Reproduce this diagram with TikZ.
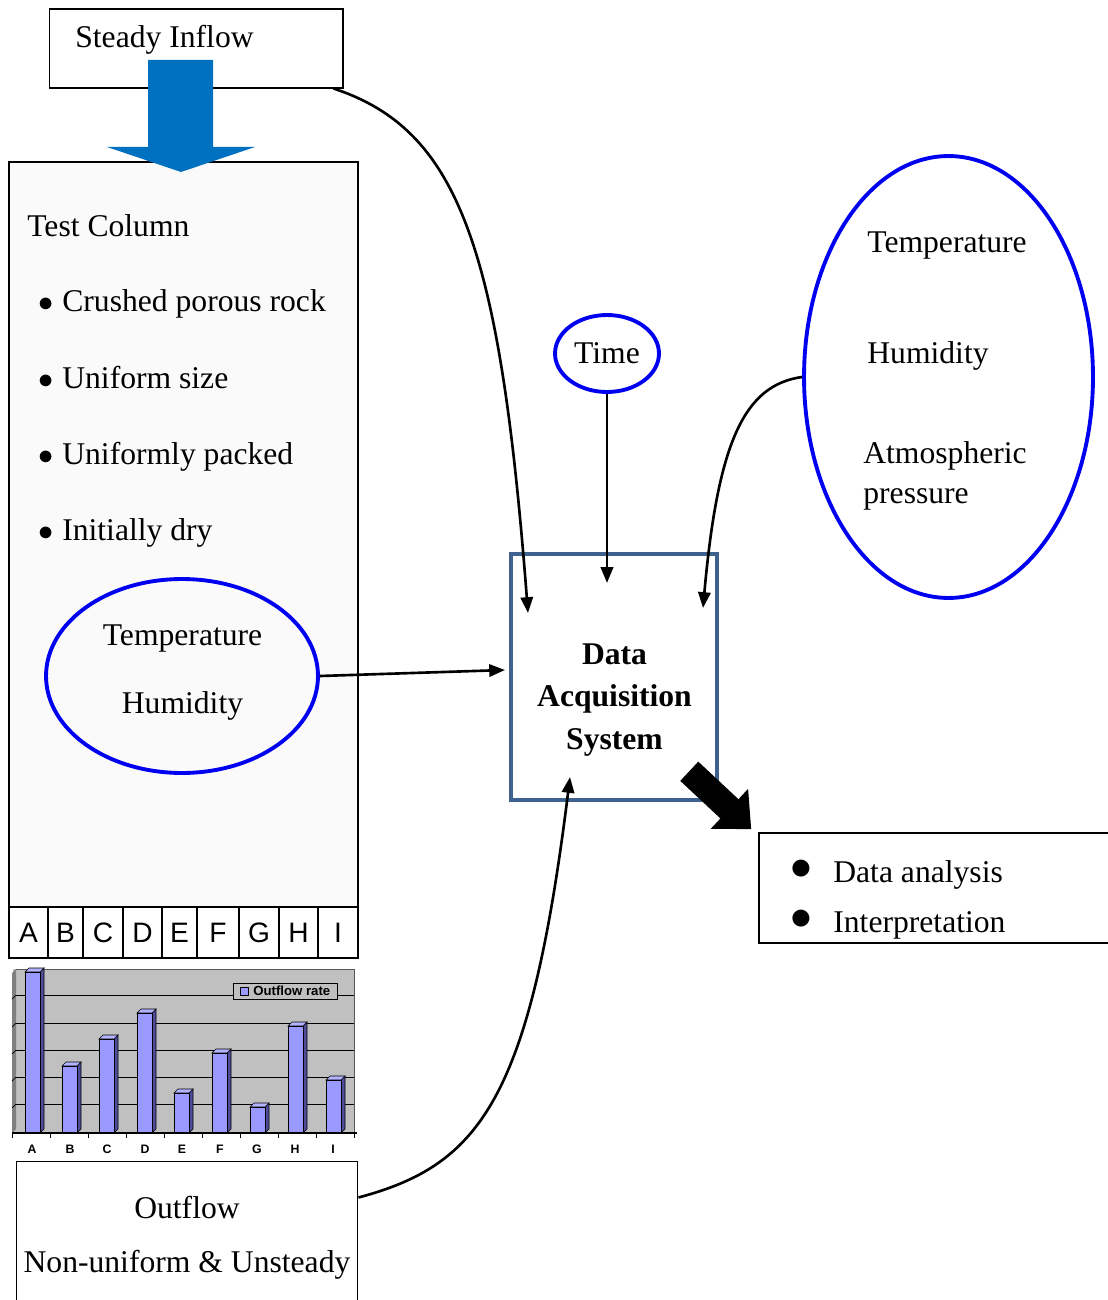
\documentclass[tikz,border=0pt]{standalone}
\usepackage{fontspec}
\setmainfont{Liberation Serif}
\newfontfamily\arialfont{Liberation Sans}
\usepackage{tikz}
\usetikzlibrary{arrows.meta, shapes.geometric, calc, positioning}
\usepackage{xcolor}
\definecolor{inflowblue}{HTML}{0070C0}
\definecolor{ringblue}{HTML}{0000F0}
\definecolor{dasblue}{HTML}{3F6190}
\definecolor{colfill}{HTML}{FAFAFA}
\definecolor{chartgray}{HTML}{C0C0C0}
\definecolor{barfront}{HTML}{9999FF}
\definecolor{bartop}{HTML}{B3B3FF}
\definecolor{barside}{HTML}{4D4D99}

\tikzset{
  box/.style={draw, line width=0.6pt, inner sep=0pt},
  ring/.style={draw=ringblue, ellipse, line width=2.2pt, inner sep=0pt},
  txt/.style={font=\fontsize{18}{22}\selectfont, inner sep=0pt},
  conn/.style={line width=1.5pt, -{Triangle[length=9pt,width=7pt]}},
  cell/.style={draw, line width=0.6pt, inner sep=0pt, font=\arialfont\fontsize{16}{18}\selectfont},
  bigdot/.style={inner sep=0pt, font=\fontsize{27}{27}\selectfont},
}

\begin{document}
\begin{tikzpicture}[x=0.02cm, y=-0.02cm]
  \useasboundingbox (0,0) rectangle (1107,1300);

  % inflow
  \node[box, minimum width=5.88cm, minimum height=1.58cm] (inflow) at (196,48.5) {};
  \node[txt, anchor=base west] (inflowtxt) at (75,48) {Steady Inflow};

  % test column
  \node[box, fill=colfill, line width=0.9pt, minimum width=6.98cm, minimum height=14.9cm] (column) at (183.5,534.5) {};
  \node[txt, anchor=base west] (coltitle) at (27,237) {Test Column};
  \foreach \t [count=\i] in {Crushed porous rock, Uniform size, Uniformly packed, Initially dry}
    \node[txt, anchor=base west] (item\i) at (38,{312+76*(\i-1)}) {$\bullet$\hspace{5pt}\t};

  % blue inflow arrow
  \fill[inflowblue] (148,60) -- (213,60) -- (213,147) -- (255,147) -- (181,172) -- (107,147) -- (148,147) -- cycle;

  % sensors in column
  \node[ring, minimum width=5.44cm, minimum height=3.88cm] (innerring) at (182,676) {};
  \node[txt, anchor=base] (innertemp) at (182.5,645) {Temperature};
  \node[txt, anchor=base] (innerhum) at (182.5,713) {Humidity};

  % outlet cells
  \foreach \l/\a/\b in {A/9/48, B/48/83, C/83/123, D/123/162, E/162/197, F/197/239, G/239/279, H/279/318, I/318/358}
    \node[cell, minimum width={0.02cm*(\b-\a)}, minimum height=1.02cm] (cell\l) at ({(\a+\b)/2},932.5) {\l};

  % chart
  \fill[chartgray] (13,969) rectangle (354,1133);
  \fill[gray] (12,973) -- (16,969) -- (16,1129) -- (12,1133) -- cycle;
  \draw[line width=0.4pt, gray!70!black] (16,969) -- (354,969) -- (354,1133);
  \foreach \gy in {995,1023,1050,1077,1104} {
    \draw[line width=0.5pt] (16,\gy) -- (354,\gy);
    \draw[line width=0.4pt] (12,\gy+4) -- (16,\gy);
  }
  \foreach \bx/\by in {25/972, 62/1066, 99/1039, 137/1013, 174/1093, 212/1053, 250/1107, 288/1026, 326/1080} {
    \filldraw[fill=barside, line width=0.3pt] (\bx+15,\by) -- (\bx+19,\by-4) -- (\bx+19,1129) -- (\bx+15,1133) -- cycle;
    \filldraw[fill=bartop, line width=0.3pt] (\bx,\by) -- (\bx+4,\by-4) -- (\bx+19,\by-4) -- (\bx+15,\by) -- cycle;
    \filldraw[fill=barfront, line width=0.3pt] (\bx,\by) rectangle (\bx+15,1133);
  }
  \draw[line width=0.6pt] (12,1133) -- (357,1133);
  \foreach \tx in {12,50,88,126,164,202,240,278,316,354}
    \draw[line width=0.5pt] (\tx,1133) -- (\tx,1138);
  \draw[fill=chartgray, line width=0.5pt] (233,983) rectangle (337,999);
  \draw[fill=barfront, line width=0.4pt] (240,987) rectangle (248,995);
  \node[anchor=west, inner sep=0pt, font=\arialfont\bfseries\fontsize{7.5}{9}\selectfont] (legend) at (253,991) {Outflow rate};
  \foreach \c/\x in {A/32, B/70, C/107, D/145, E/182, F/220, G/257, H/295, I/333}
    \node[inner sep=0pt, font=\arialfont\bfseries\fontsize{7}{8}\selectfont] (lab\c) at (\x,1149) {\c};

  % outflow
  \node[box, minimum width=6.84cm, minimum height=2.88cm] (outflow) at (187,1233) {};
  \node[txt, anchor=base] (outtxt1) at (187,1218) {Outflow};
  \node[txt, anchor=base] (outtxt2) at (187,1272) {Non-uniform \& Unsteady};

  % time
  \node[ring, txt, draw=ringblue, line width=2.2pt, minimum width=2.08cm, minimum height=1.54cm] (time) at (607,353.5) {\raisebox{-2pt}{Time}};

  % data acquisition
  \node[box, draw=dasblue, line width=2.6pt, minimum width=4.12cm, minimum height=4.92cm] (das) at (614,677) {};
  \node[inner sep=0pt, align=center, font=\fontsize{18}{24.1}\selectfont\bfseries] (dastxt) at (614.5,700) {Data\\Acquisition\\System};

  % ambient
  \node[ring, minimum width=5.78cm, minimum height=8.84cm] (rightring) at (948.5,377) {};
  \node[txt, anchor=base west] (outtemp) at (867,253) {Temperature};
  \node[txt, anchor=base west] (outhum) at (867,363) {Humidity};
  \node[txt, anchor=base west] (outatm) at (863,463) {Atmospheric};
  \node[txt, anchor=base west] (outpres) at (863,503) {pressure};

  % results
  \node[box, line width=0.9pt, minimum width=7.06cm, minimum height=2.2cm] (result) at (935.5,888) {};
  \node[bigdot] (dot1) at (801,870) {$\bullet$};
  \node[bigdot] (dot2) at (801,920) {$\bullet$};
  \node[txt, anchor=base west] (res1) at (833,882) {Data analysis};
  \node[txt, anchor=base west] (res2) at (833,932) {Interpretation};

  % connectors
  \coordinate (in1) at (528,613);
  \coordinate (in2) at (607,583);
  \coordinate (in3) at (703,608);
  \coordinate (in4) at (505,670);
  \coordinate (in5) at (570,777);
  \draw[conn] ($(inflow.south east)+(-10,0)$) .. controls (460,130) and (500,250) .. (in1);
  \draw[conn] (time.south) -- (in2);
  \draw[conn] (rightring.west) .. controls (745,385) and (718,440) .. (in3);
  \draw[conn] (innerring.east) -- (in4);
  \draw[conn] ($(outflow.north east)+(0,37)$) .. controls (480,1165) and (530,1100) .. (in5);
  \draw[line width=15pt, -{Triangle[length=17pt,width=30pt]}] ($(das.south east)+(-30,-31)$) -- ($(result.north west)+(-7,-3)$);
\end{tikzpicture}
\end{document}
